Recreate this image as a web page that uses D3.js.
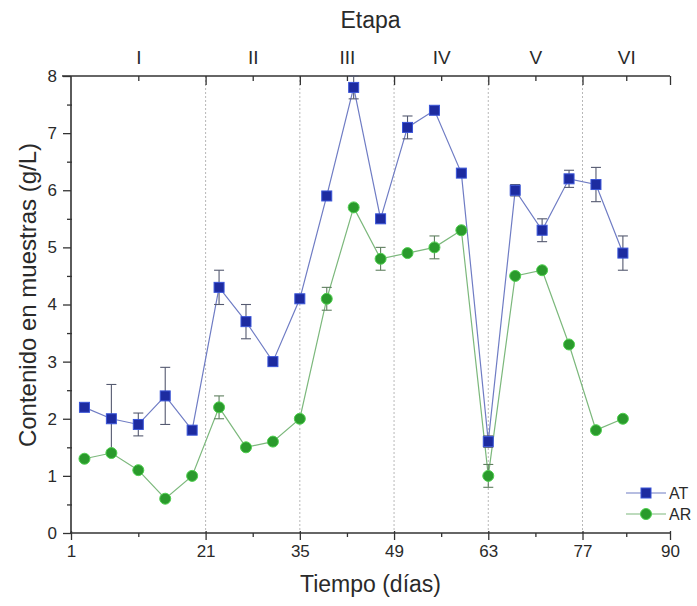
<!DOCTYPE html>
<html>
<head>
<meta charset="utf-8">
<script src="https://cdn.jsdelivr.net/npm/d3@7"></script>
<style>
  html, body { margin: 0; padding: 0; background: #fff; }
  svg { display: block; font-family: "Liberation Sans", Arial, sans-serif; }
</style>
</head>
<body>
<svg id="chart" width="697" height="606"></svg>
<script>
// Sampling days and measured contents (g/L)
const days  = [3, 7, 11, 15, 19, 23, 27, 31, 35, 39, 43, 47, 51, 55, 59, 63, 67, 71, 75, 79, 83];
const atVal = [2.2, 2.0, 1.9, 2.4, 1.8, 4.3, 3.7, 3.0, 4.1, 5.9, 7.8, 5.5, 7.1, 7.4, 6.3, 1.6, 6.0, 5.3, 6.2, 6.1, 4.9];
const atErr = [0.05, 0.6, 0.2, 0.5, 0, 0.3, 0.3, 0, 0, 0, 0.2, 0, 0.2, 0, 0, 0.1, 0.1, 0.2, 0.15, 0.3, 0.3];
const arVal = [1.3, 1.4, 1.1, 0.6, 1.0, 2.2, 1.5, 1.6, 2.0, 4.1, 5.7, 4.8, 4.9, 5.0, 5.3, 1.0, 4.5, 4.6, 3.3, 1.8, 2.0];
const arErr = [0, 0, 0, 0, 0, 0.2, 0, 0, 0, 0.2, 0, 0.2, 0, 0.2, 0, 0.2, 0, 0, 0, 0, 0];

// Axis ticks and stage labels
const xTicks      = [1, 21, 35, 49, 63, 77, 90];
const stageBounds = [21, 35, 49, 63, 77];
const stageMid    = [11, 28, 42, 56, 70, 83.5];
const stageNames  = ["I", "II", "III", "IV", "V", "VI"];
const yTicks      = [0, 1, 2, 3, 4, 5, 6, 7, 8];
const yMinor      = [0.5, 1.5, 2.5, 3.5, 4.5, 5.5, 6.5, 7.5];

const svg = d3.select("#chart");
const L = 71, R = 670, T = 76, B = 533;

const x = d3.scaleLinear().domain([1, 90]).range([L, R]);
const y = d3.scaleLinear().domain([0, 8]).range([B, T]);

const axisColor = "#333";
const textColor = "#2a2a2a";

// Stage boundary dotted lines
svg.append("g").selectAll("line").data(stageBounds).join("line")
  .attr("x1", d => x(d)).attr("x2", d => x(d))
  .attr("y1", T).attr("y2", B)
  .attr("stroke", "#b8b8b8").attr("stroke-width", 1)
  .attr("stroke-dasharray", "2,2");

// Bottom axis (major + minor)
const gB = svg.append("g").attr("transform", `translate(0,${B})`)
  .call(d3.axisBottom(x).tickValues(xTicks).tickFormat(d3.format("d")).tickSize(7).tickPadding(5));
gB.selectAll(".tick line").attr("y1", -2);
const gBm = svg.append("g").attr("transform", `translate(0,${B})`)
  .call(d3.axisBottom(x).tickValues(stageMid).tickFormat("").tickSize(4));
gBm.select(".domain").remove();

// Top axis: stage boundaries and stage names
const gT = svg.append("g").attr("transform", `translate(0,${T})`)
  .call(d3.axisTop(x).tickValues(stageBounds.concat([90])).tickFormat("").tickSize(-9));
const gTm = svg.append("g").attr("transform", `translate(0,${T})`)
  .call(d3.axisTop(x).tickValues(stageMid).tickFormat((d, i) => stageNames[i]).tickSize(-5).tickPadding(12));
gTm.select(".domain").remove();

// Left axis (major + minor)
const gL = svg.append("g").attr("transform", `translate(${L},0)`)
  .call(d3.axisLeft(y).tickValues(yTicks).tickFormat(d3.format("d")).tickSize(8).tickPadding(6));
const gLm = svg.append("g").attr("transform", `translate(${L},0)`)
  .call(d3.axisLeft(y).tickValues(yMinor).tickFormat("").tickSize(4));
gLm.select(".domain").remove();
gLm.selectAll(".tick line").attr("x1", 1);

[gB, gBm, gT, gTm, gL, gLm].forEach(g => {
  g.selectAll(".domain").attr("stroke", axisColor).attr("stroke-width", 1.6);
  g.selectAll(".tick line").attr("stroke", axisColor).attr("stroke-width", 1.3);
  g.selectAll(".tick text").attr("fill", textColor).attr("font-size", 17);
});
// domains drawn flat (no outer ticks)
gB.select(".domain").attr("d", `M${L - 1},0H${R}`);
gT.select(".domain").attr("d", `M${L - 9},0H${R}`);
gL.select(".domain").attr("d", `M0,${B + 1}V${T}`);
gTm.selectAll(".tick text").attr("font-size", 19);

// Axis titles
svg.append("text").attr("x", (L + R) / 2).attr("y", 28)
  .attr("text-anchor", "middle").attr("font-size", 23).attr("fill", textColor).text("Etapa");
svg.append("text").attr("x", (L + R) / 2).attr("y", 592)
  .attr("text-anchor", "middle").attr("font-size", 23).attr("fill", textColor).text("Tiempo (días)");
svg.append("text")
  .attr("transform", `translate(36,295) rotate(-90)`)
  .attr("text-anchor", "middle").attr("font-size", 24).attr("fill", textColor)
  .text("Contenido en muestras (g/L)");

// Series
const series = [
  { name: "AT", vals: atVal, errs: atErr, shape: "square",
    fill: "#1d2ba0", edge: "#3a55d8", line: "#6f7cc4", bar: "#555a70" },
  { name: "AR", vals: arVal, errs: arErr, shape: "circle",
    fill: "#2a9a2c", edge: "#4fcf4f", line: "#7cb87c", bar: "#5f7f5f" }
];

const lineGen = d3.line().x((d, i) => x(days[i])).y(d => y(d));

// connecting lines first (both series), then error bars and markers
series.forEach(s => {
  svg.append("path").datum(s.vals)
    .attr("d", lineGen).attr("fill", "none")
    .attr("stroke", s.line).attr("stroke-width", 1.2);
});

series.forEach(s => {
  const pts = s.vals.map((v, i) => ({ d: days[i], v, e: s.errs[i] }));
  const eb = svg.append("g").attr("stroke", s.bar).attr("stroke-width", 1.1).attr("fill", "none");
  pts.filter(p => p.e > 0).forEach(p => {
    const cx = x(p.d), y0 = y(p.v - p.e), y1 = y(p.v + p.e);
    eb.append("line").attr("x1", cx).attr("x2", cx).attr("y1", y0).attr("y2", y1);
    eb.append("line").attr("x1", cx - 5).attr("x2", cx + 5).attr("y1", y0).attr("y2", y0);
    eb.append("line").attr("x1", cx - 5).attr("x2", cx + 5).attr("y1", y1).attr("y2", y1);
  });
  const mk = svg.append("g");
  if (s.shape === "square") {
    mk.selectAll("rect").data(pts).join("rect")
      .attr("x", p => x(p.d) - 5).attr("y", p => y(p.v) - 5)
      .attr("width", 10).attr("height", 10)
      .attr("fill", s.fill).attr("stroke", s.edge).attr("stroke-width", 1);
  } else {
    mk.selectAll("circle").data(pts).join("circle")
      .attr("cx", p => x(p.d)).attr("cy", p => y(p.v)).attr("r", 5.5)
      .attr("fill", s.fill).attr("stroke", s.edge).attr("stroke-width", 1);
  }
});

// Legend
const lg = svg.append("g");
series.forEach((s, i) => {
  const ly = 493 + i * 21;
  lg.append("line").attr("x1", 626).attr("x2", 666).attr("y1", ly).attr("y2", ly)
    .attr("stroke", s.line).attr("stroke-width", 1.2);
  if (s.shape === "square") {
    lg.append("rect").attr("x", 641).attr("y", ly - 5).attr("width", 10).attr("height", 10)
      .attr("fill", s.fill).attr("stroke", s.edge);
  } else {
    lg.append("circle").attr("cx", 646).attr("cy", ly).attr("r", 5.5)
      .attr("fill", s.fill).attr("stroke", s.edge);
  }
  lg.append("text").attr("x", 669).attr("y", ly + 6).attr("font-size", 16).attr("fill", textColor).text(s.name);
});
</script>
</body>
</html>
